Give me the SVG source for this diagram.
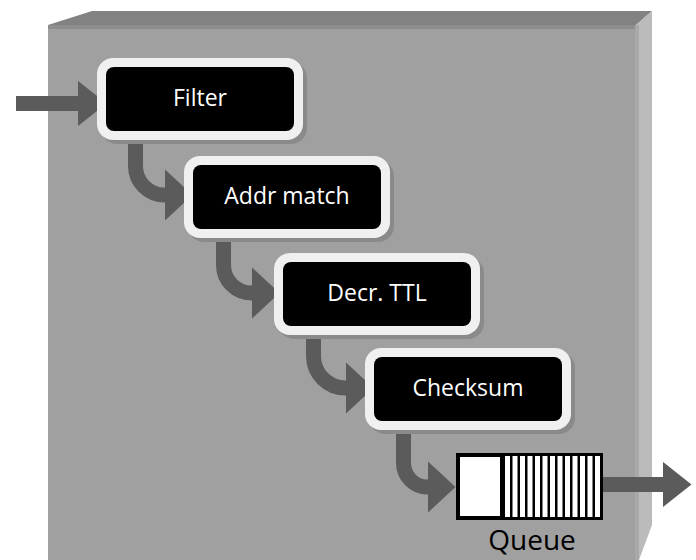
<svg xmlns="http://www.w3.org/2000/svg" width="696" height="560" viewBox="0 0 696 560">
<defs>
<style>
.lbl{font-family:"Open Sans","Noto Sans","DejaVu Sans",sans-serif;font-size:23px;fill:#ffffff;text-anchor:middle}
.qlbl{font-family:"Open Sans","Noto Sans","DejaVu Sans",sans-serif;font-size:28px;fill:#000000;text-anchor:middle}
.shadow{fill:#8a8a8a}
.outer{fill:#f0f0f0}
.inner{fill:#000000}
.conn{fill:none;stroke:#5b5b5b;stroke-width:15}
</style>
<marker id="headC" markerUnits="userSpaceOnUse" viewBox="0 0 28 52" refX="0.5" refY="26" markerWidth="28" markerHeight="52" orient="auto">
<path d="M0,0 L28,26 L0,52 z" fill="#5b5b5b"/>
</marker>
<marker id="headS" markerUnits="userSpaceOnUse" viewBox="0 0 29 46" refX="0.5" refY="23" markerWidth="29" markerHeight="46" orient="auto">
<path d="M0,0 L29,23 L0,46 z" fill="#5b5b5b"/>
</marker>
</defs>
<g id="chassis">
<polygon points="48,25 92,11 652,11 636,25" fill="#828282"/>
<rect x="48" y="25" width="588" height="535" fill="#a0a0a0"/>
<rect x="48" y="25" width="588" height="4" fill="#8e8e8e"/>
<polygon points="636,25 652,11 652,525 639,560 636,560" fill="#bbbbbb"/>
<rect x="635" y="25" width="4" height="535" fill="#a8a8a8"/>
</g>
<g id="connectors">
<path class="conn" d="M16,103.5 H78" marker-end="url(#headS)"/>
<path class="conn" d="M135.5,130 V166 A29,29 0 0 0 164.5,195 H165" marker-end="url(#headC)"/>
<path class="conn" d="M223.5,228 V265 A28,28 0 0 0 251.5,293 H252" marker-end="url(#headC)"/>
<path class="conn" d="M313.5,325 V356 A32,32 0 0 0 345.5,388 H346" marker-end="url(#headC)"/>
<path class="conn" d="M403.5,420 V463 A24,24 0 0 0 427.5,487 H428" marker-end="url(#headC)"/>
<path class="conn" d="M603,484.5 H663" marker-end="url(#headS)"/>
</g>
<g id="filter">
<rect class="shadow" x="101" y="62" width="206" height="82" rx="16"/>
<rect class="outer" x="97" y="58" width="206" height="82" rx="16"/>
<rect class="inner" x="106" y="67" width="188" height="64" rx="8"/>
<text class="lbl" x="200" y="106">Filter</text>
</g>
<g id="addr-match">
<rect class="shadow" x="188" y="160" width="206" height="82" rx="16"/>
<rect class="outer" x="184" y="156" width="206" height="82" rx="16"/>
<rect class="inner" x="193" y="165" width="188" height="64" rx="8"/>
<text class="lbl" x="287" y="204">Addr match</text>
</g>
<g id="decr-ttl">
<rect class="shadow" x="278" y="257" width="206" height="82" rx="16"/>
<rect class="outer" x="274" y="253" width="206" height="82" rx="16"/>
<rect class="inner" x="283" y="262" width="188" height="64" rx="8"/>
<text class="lbl" x="377" y="301">Decr. TTL</text>
</g>
<g id="checksum">
<rect class="shadow" x="369" y="352" width="206" height="82" rx="16"/>
<rect class="outer" x="365" y="348" width="206" height="82" rx="16"/>
<rect class="inner" x="374" y="357" width="188" height="64" rx="8"/>
<text class="lbl" x="468" y="396">Checksum</text>
</g>
<g id="queue">
<rect x="456" y="453" width="147" height="67" fill="#000000"/>
<rect x="460" y="457" width="40" height="59" fill="#ffffff"/>
<g fill="#ffffff">
<rect x="505" y="456" width="5" height="61"/>
<rect x="512.5" y="456" width="5" height="61"/>
<rect x="520" y="456" width="5" height="61"/>
<rect x="527.5" y="456" width="5" height="61"/>
<rect x="535" y="456" width="5" height="61"/>
<rect x="542.5" y="456" width="5" height="61"/>
<rect x="550" y="456" width="5" height="61"/>
<rect x="557.5" y="456" width="5" height="61"/>
<rect x="565" y="456" width="5" height="61"/>
<rect x="572.5" y="456" width="5" height="61"/>
<rect x="580" y="456" width="5" height="61"/>
<rect x="587.5" y="456" width="5" height="61"/>
<rect x="595" y="456" width="5" height="61"/>
</g>
<text class="qlbl" x="532" y="550">Queue</text>
</g>
</svg>
